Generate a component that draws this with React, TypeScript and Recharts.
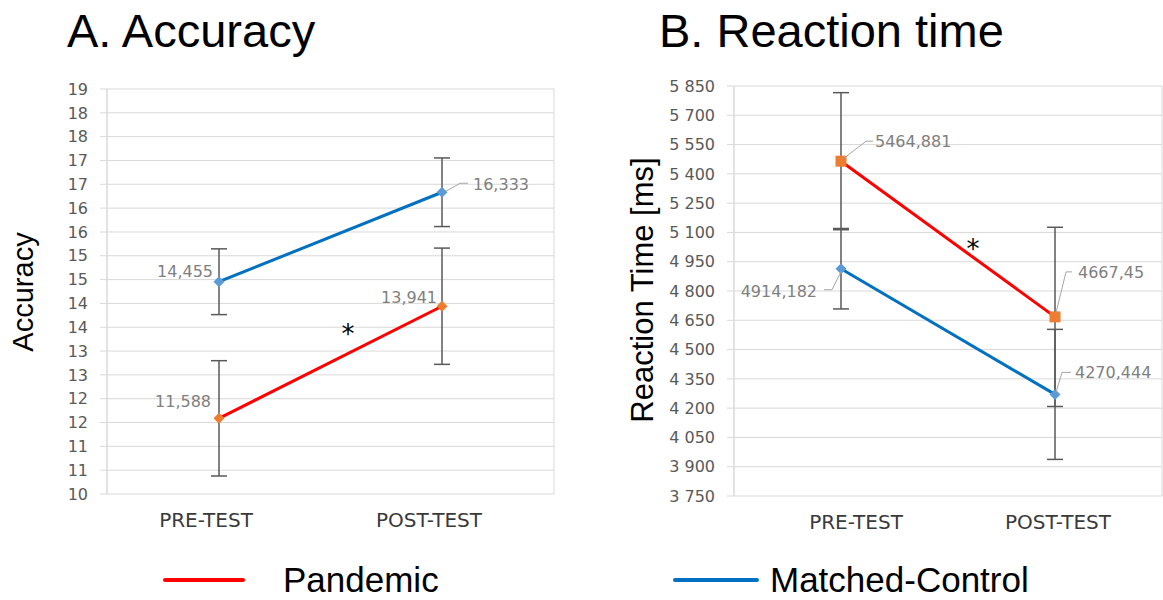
import React from 'react';
import { LineChart, Line, XAxis, YAxis, CartesianGrid, ErrorBar, LabelList } from 'recharts';

// ---------- data ----------
const phases = ['PRE-TEST', 'POST-TEST'];
const accuracyPandemic = [11.588, 13.941];
const accuracyPandemicErr = [1.21, 1.22];
const accuracyControl = [14.455, 16.333];
const accuracyControlErr = [0.69, 0.72];
const rtPandemic = [5464.881, 4667.45];
const rtPandemicErr = [351, 459];
const rtControl = [4914.182, 4270.444];
const rtControlErr = [206, 333];
const accuracyTicks = [10, 10.5, 11, 11.5, 12, 12.5, 13, 13.5, 14, 14.5, 15, 15.5, 16, 16.5, 17, 17.5, 18, 18.5];
const rtTicks = [3750, 3900, 4050, 4200, 4350, 4500, 4650, 4800, 4950, 5100, 5250, 5400, 5550, 5700, 5850];
const seriesNames = ['Pandemic', 'Matched-Control'];
const gridTicks = [0, 1, 2];

const accuracyData = phases.map((phase, i) => ({
  phase,
  pandemic: accuracyPandemic[i],
  pandemicErr: accuracyPandemicErr[i],
  control: accuracyControl[i],
  controlErr: accuracyControlErr[i],
}));
const rtData = phases.map((phase, i) => ({
  phase,
  pandemic: rtPandemic[i],
  pandemicErr: rtPandemicErr[i],
  control: rtControl[i],
  controlErr: rtControlErr[i],
}));

// ---------- styles ----------
const LINE_RED = '#FF0000';
const LINE_BLUE = '#0070C0';
const MARK_ORANGE = '#ED7D31';
const MARK_BLUE = '#5B9BD5';
const GRID = '#D9D9D9';
const TICK_COLOR = '#595959';
const LABEL_COLOR = '#7F7F7F';
const ERR_COLOR = '#595959';
const NUM_FONT = 'DejaVu Sans, Verdana, sans-serif';
const TXT_FONT = 'Liberation Sans, Arial, sans-serif';

type LabelPos = { dx: number; dy: number; anchor: 'start' | 'end' | 'middle'; leader?: number[][] };

const accLabelPos: Record<string, LabelPos[]> = {
  pandemic: [
    { dx: -8, dy: -17, anchor: 'end' },
    { dx: -5, dy: -9, anchor: 'end' },
  ],
  control: [
    { dx: -6, dy: -10, anchor: 'end' },
    { dx: 31, dy: -8, anchor: 'start', leader: [[4, -1], [18, -9], [26, -9]] },
  ],
};
const rtLabelPos: Record<string, LabelPos[]> = {
  pandemic: [
    { dx: 34, dy: -20, anchor: 'start', leader: [[3, -3], [25, -20], [32, -20]] },
    { dx: 23, dy: -44, anchor: 'start', leader: [[1, -4], [11, -45], [17, -45]] },
  ],
  control: [
    { dx: -24, dy: 23, anchor: 'end', leader: [[0, 3], [-9, 21], [-17, 21]] },
    { dx: 20, dy: -22, anchor: 'start', leader: [[1, -2], [7, -22], [16, -22]] },
  ],
};

const commaFmt = (v: number) => String(v).replace('.', ',');
const accTickFmt = (v: number) => String(Math.round(v));
const rtTickFmt = (v: number) => {
  const th = Math.floor(v / 1000);
  const rest = String(v % 1000).padStart(3, '0');
  return `${th} ${rest}`;
};

const makeLabel = (positions: LabelPos[]) => (props: any) => {
  const { index, value } = props;
  const x = props.x ?? props.viewBox?.x;
  const y = props.y ?? props.viewBox?.y;
  const p = positions[index];
  if (x == null || y == null || !p) return null;
  return (
    <g key={`lbl-${index}`}>
      {p.leader && (
        <polyline
          points={p.leader.map(([a, b]) => `${x + a},${y + b}`).join(' ')}
          fill="none"
          stroke="#A6A6A6"
          strokeWidth={1}
        />
      )}
      <text
        x={x + p.dx}
        y={y + p.dy}
        dy="0.35em"
        textAnchor={p.anchor}
        fontSize={16}
        fill={LABEL_COLOR}
        fontFamily={NUM_FONT}
      >
        {commaFmt(value)}
      </text>
    </g>
  );
};

const diamondDot = (color: string, r: number) => (props: any) => {
  const { cx, cy, index } = props;
  if (cx == null || cy == null) return <g key={`dd-${index}`} />;
  return (
    <path
      key={`dd-${index}`}
      d={`M${cx},${cy - r}L${cx + r},${cy}L${cx},${cy + r}L${cx - r},${cy}Z`}
      fill={color}
    />
  );
};
const squareDot = (color: string, h: number) => (props: any) => {
  const { cx, cy, index } = props;
  if (cx == null || cy == null) return <g key={`sd-${index}`} />;
  return <rect key={`sd-${index}`} x={cx - h} y={cy - h} width={2 * h} height={2 * h} fill={color} />;
};

const makeXTick = (offsets: number[]) => (props: any) => {
  const { x, y, payload, index } = props;
  return (
    <text
      x={x + (offsets[index] ?? 0)}
      y={y}
      dy="0.71em"
      textAnchor="middle"
      fontSize={20}
      fill="#3A3A3A"
      fontFamily={NUM_FONT}
    >
      {payload.value}
    </text>
  );
};

type PanelProps = {
  data: any[];
  domain: [number, number];
  ticks: number[];
  tickFmt: (v: number) => string;
  margin: { top: number; right: number; bottom: number; left: number };
  yWidth: number;
  padding: number;
  xOffsets: number[];
  labelPos: Record<string, LabelPos[]>;
  pandemicDot: (p: any) => any;
  controlDot: (p: any) => any;
};

const Panel = (p: PanelProps) => (
  <LineChart width={580} height={560} data={p.data} margin={p.margin}>
    <CartesianGrid xAxisId="grid" stroke={GRID} strokeWidth={1} />
    <XAxis xAxisId="grid" type="number" domain={[0, 2]} ticks={gridTicks} hide />
    <XAxis
      xAxisId="cat"
      dataKey="phase"
      padding={{ left: p.padding, right: p.padding }}
      axisLine={false}
      tickLine={false}
      tickSize={0}
      tickMargin={19}
      height={30}
      interval={0}
      tick={makeXTick(p.xOffsets)}
    />
    <YAxis
      domain={p.domain}
      ticks={p.ticks}
      interval={0}
      width={p.yWidth}
      tickFormatter={p.tickFmt}
      axisLine={{ stroke: GRID }}
      tickLine={{ stroke: GRID }}
      tickSize={7}
      tickMargin={12}
      allowDataOverflow
      tick={{ fontSize: 16, fill: TICK_COLOR, fontFamily: NUM_FONT }}
    />
    <Line
      xAxisId="cat"
      dataKey="control"
      name={seriesNames[1]}
      stroke={LINE_BLUE}
      strokeWidth={3}
      dot={p.controlDot}
      activeDot={false}
      isAnimationActive={false}
    >
      <ErrorBar dataKey="controlErr" width={8} stroke={ERR_COLOR} strokeWidth={1.5} direction="y" />
      <LabelList dataKey="control" content={makeLabel(p.labelPos.control)} />
    </Line>
    <Line
      xAxisId="cat"
      dataKey="pandemic"
      name={seriesNames[0]}
      stroke={LINE_RED}
      strokeWidth={3}
      dot={p.pandemicDot}
      activeDot={false}
      isAnimationActive={false}
    >
      <ErrorBar dataKey="pandemicErr" width={8} stroke={ERR_COLOR} strokeWidth={1.5} direction="y" />
      <LabelList dataKey="pandemic" content={makeLabel(p.labelPos.pandemic)} />
    </Line>
  </LineChart>
);

const legendColors = [LINE_RED, LINE_BLUE];
const legendLayout = [
  { x1: 165, x2: 243, tx: 283 },
  { x1: 675, x2: 757, tx: 770 },
];

export default function App() {
  return (
    <div style={{ position: 'absolute', left: 0, top: 0, width: 1163, height: 600, background: '#fff', overflow: 'hidden' }}>
      <div style={{ position: 'absolute', left: 0, top: 0 }}>
        <Panel
          data={accuracyData}
          domain={[10, 18.5]}
          ticks={accuracyTicks}
          tickFmt={accTickFmt}
          margin={{ top: 89, right: 26, bottom: 36, left: 47 }}
          yWidth={60}
          padding={112}
          xOffsets={[-13, -13]}
          labelPos={accLabelPos}
          pandemicDot={diamondDot(MARK_ORANGE, 5.5)}
          controlDot={diamondDot(MARK_BLUE, 5.5)}
        />
      </div>
      <div style={{ position: 'absolute', left: 583, top: 0 }}>
        <Panel
          data={rtData}
          domain={[3750, 5850]}
          ticks={rtTicks}
          tickFmt={rtTickFmt}
          margin={{ top: 86, right: 1, bottom: 34, left: 81 }}
          yWidth={70}
          padding={107}
          xOffsets={[15, 3]}
          labelPos={rtLabelPos}
          pandemicDot={squareDot(MARK_ORANGE, 5.5)}
          controlDot={diamondDot(MARK_BLUE, 5.5)}
        />
      </div>
      <svg width={1163} height={600} style={{ position: 'absolute', left: 0, top: 0, pointerEvents: 'none' }}>
        <text x={67} y={47} fontSize={47} fontFamily={TXT_FONT} fill="#000">A. Accuracy</text>
        <text x={659} y={47} fontSize={47} fontFamily={TXT_FONT} fill="#000">B. Reaction time</text>
        <text x={33} y={292} fontSize={29} fontFamily={TXT_FONT} fill="#000" textAnchor="middle" transform="rotate(-90 33 292)">Accuracy</text>
        <text x={653} y={290} fontSize={31} fontFamily={TXT_FONT} fill="#000" textAnchor="middle" transform="rotate(-90 653 290)">Reaction Time [ms]</text>
        <text x={348} y={343} fontSize={26} fontFamily={NUM_FONT} fill="#000" textAnchor="middle">*</text>
        <text x={973} y={258} fontSize={26} fontFamily={NUM_FONT} fill="#000" textAnchor="middle">*</text>
        {seriesNames.map((name, i) => (
          <g key={name}>
            <line x1={legendLayout[i].x1} x2={legendLayout[i].x2} y1={580} y2={580} stroke={legendColors[i]} strokeWidth={4} strokeLinecap="round" />
            <text x={legendLayout[i].tx} y={592} fontSize={35} fontFamily={TXT_FONT} fill="#000">{name}</text>
          </g>
        ))}
      </svg>
    </div>
  );
}
